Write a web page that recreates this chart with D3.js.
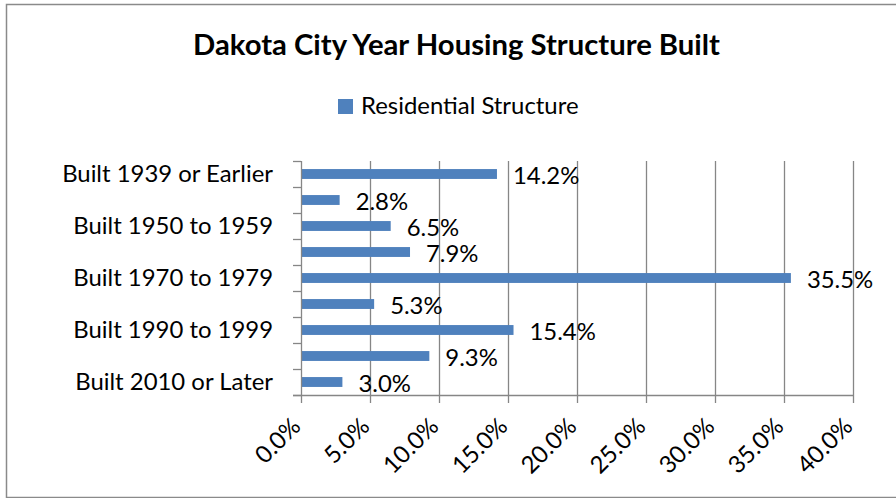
<!DOCTYPE html>
<html>
<head>
<meta charset="utf-8">
<script src="https://cdn.jsdelivr.net/npm/d3@7"></script>
<style>
  html, body { margin: 0; padding: 0; background: #fff; }
  svg { display: block; }
  text { font-family: Lato, "Open Sans", sans-serif; fill: #000; }
</style>
</head>
<body>
<div id="chart"></div>
<script>
// data
var categories = ["Built 1939 or Earlier", "Built 1940 to 1949", "Built 1950 to 1959",
  "Built 1960 to 1969", "Built 1970 to 1979", "Built 1980 to 1989",
  "Built 1990 to 1999", "Built 2000 to 2009", "Built 2010 or Later"];
var values = [14.2, 2.8, 6.5, 7.9, 35.5, 5.3, 15.4, 9.3, 3.0];
var shownLabels = ["Built 1939 or Earlier", "Built 1950 to 1959", "Built 1970 to 1979",
  "Built 1990 to 1999", "Built 2010 or Later"];
var xTicks = [0, 5, 10, 15, 20, 25, 30, 35, 40];
var seriesName = "Residential Structure";
var title = "Dakota City Year Housing Structure Built";

var width = 896, height = 498;
var margin = { top: 161, right: 43, bottom: 103, left: 301 };
var barColor = "#4f81bd", gridColor = "#868686";

var svg = d3.select("#chart").append("svg")
  .attr("width", width)
  .attr("height", height);

// outer chart border
svg.append("rect")
  .attr("x", 6.5).attr("y", 4.5)
  .attr("width", 1000).attr("height", 493)
  .attr("fill", "none")
  .attr("stroke", "#8a8a8a")
  .attr("stroke-width", 1.5);

// fit a text element's font size so it spans the given width
function fitWidth(sel, target) {
  var w = sel.node().getComputedTextLength();
  var fs = parseFloat(sel.attr("font-size"));
  return fs * target / w;
}

// body font size, from the width of the first category label in the picture
var probe = svg.append("text").attr("font-size", 20).text("Built 1939 or Earlier");
var bodySize = fitWidth(probe, 211);
probe.remove();

// title
var titleText = svg.append("text")
  .attr("x", 456.5).attr("y", 55)
  .attr("text-anchor", "middle")
  .attr("font-weight", "bold")
  .attr("font-size", 24)
  .text(title);
titleText.attr("font-size", fitWidth(titleText, 527));

// legend
svg.append("rect")
  .attr("x", 338).attr("y", 99)
  .attr("width", 15).attr("height", 15)
  .attr("fill", barColor);
svg.append("text")
  .attr("x", 361).attr("y", 114)
  .attr("font-size", bodySize)
  .text(seriesName);

var plotW = width - margin.left - margin.right,
    plotH = height - margin.top - margin.bottom;

var g = svg.append("g")
  .attr("transform", "translate(" + margin.left + "," + margin.top + ")");

var x = d3.scaleLinear().domain([0, 40]).range([0, plotW]);
var y = d3.scaleBand().domain(categories).range([0, plotH]);

// vertical gridlines
g.selectAll(".grid")
  .data(xTicks.slice(1))
  .enter().append("line")
  .attr("class", "grid")
  .attr("x1", function(d) { return Math.round(x(d)) + 0.5; })
  .attr("x2", function(d) { return Math.round(x(d)) + 0.5; })
  .attr("y1", 0).attr("y2", plotH)
  .attr("stroke", gridColor)
  .attr("stroke-width", 1.3);

// bars
var barH = y.bandwidth() * 0.38;
g.selectAll(".bar")
  .data(values)
  .enter().append("rect")
  .attr("class", "bar")
  .attr("x", 0)
  .attr("y", function(d, i) { return y(categories[i]) + (y.bandwidth() - barH) / 2; })
  .attr("width", function(d) { return x(d); })
  .attr("height", barH)
  .attr("fill", barColor);

// data labels
g.selectAll(".val")
  .data(values)
  .enter().append("text")
  .attr("class", "val")
  .attr("x", function(d) { return x(d) + 16; })
  .attr("y", function(d, i) { return y(categories[i]) + y.bandwidth() / 2 + 1.5; })
  .attr("dy", "0.35em")
  .attr("font-size", bodySize)
  .text(function(d) { return d.toFixed(1) + "%"; });

// y axis: ticks on the band boundaries
var axisLines = g.append("g").attr("stroke", gridColor).attr("stroke-width", 1.3);
axisLines.append("line")
  .attr("x1", 0.5).attr("x2", 0.5)
  .attr("y1", 0).attr("y2", plotH);
axisLines.selectAll(".ytick")
  .data(d3.range(categories.length + 1))
  .enter().append("line")
  .attr("x1", -8).attr("x2", 0)
  .attr("y1", function(i) { return Math.round(i * y.step()) + 0.5; })
  .attr("y2", function(i) { return Math.round(i * y.step()) + 0.5; });

// x axis line and ticks
axisLines.append("line")
  .attr("x1", -8).attr("x2", plotW)
  .attr("y1", plotH + 0.5).attr("y2", plotH + 0.5);
axisLines.selectAll(".xtick")
  .data(xTicks)
  .enter().append("line")
  .attr("x1", function(d) { return Math.round(x(d)) + 0.5; })
  .attr("x2", function(d) { return Math.round(x(d)) + 0.5; })
  .attr("y1", plotH).attr("y2", plotH + 8);

// category labels (every other one shown)
g.selectAll(".cat")
  .data(shownLabels)
  .enter().append("text")
  .attr("class", "cat")
  .attr("x", -28)
  .attr("y", function(d) { return y(d) + y.bandwidth() / 2; })
  .attr("dy", "0.35em")
  .attr("text-anchor", "end")
  .attr("font-size", bodySize)
  .text(function(d) { return d; });

// rotated x tick labels
g.selectAll(".xlab")
  .data(xTicks)
  .enter().append("text")
  .attr("class", "xlab")
  .attr("text-anchor", "end")
  .attr("font-size", bodySize)
  .attr("transform", function(d) {
    return "translate(" + (x(d) + 1) + "," + (plotH + 33) + ") rotate(-45)";
  })
  .text(function(d) { return d.toFixed(1) + "%"; });
</script>
</body>
</html>
